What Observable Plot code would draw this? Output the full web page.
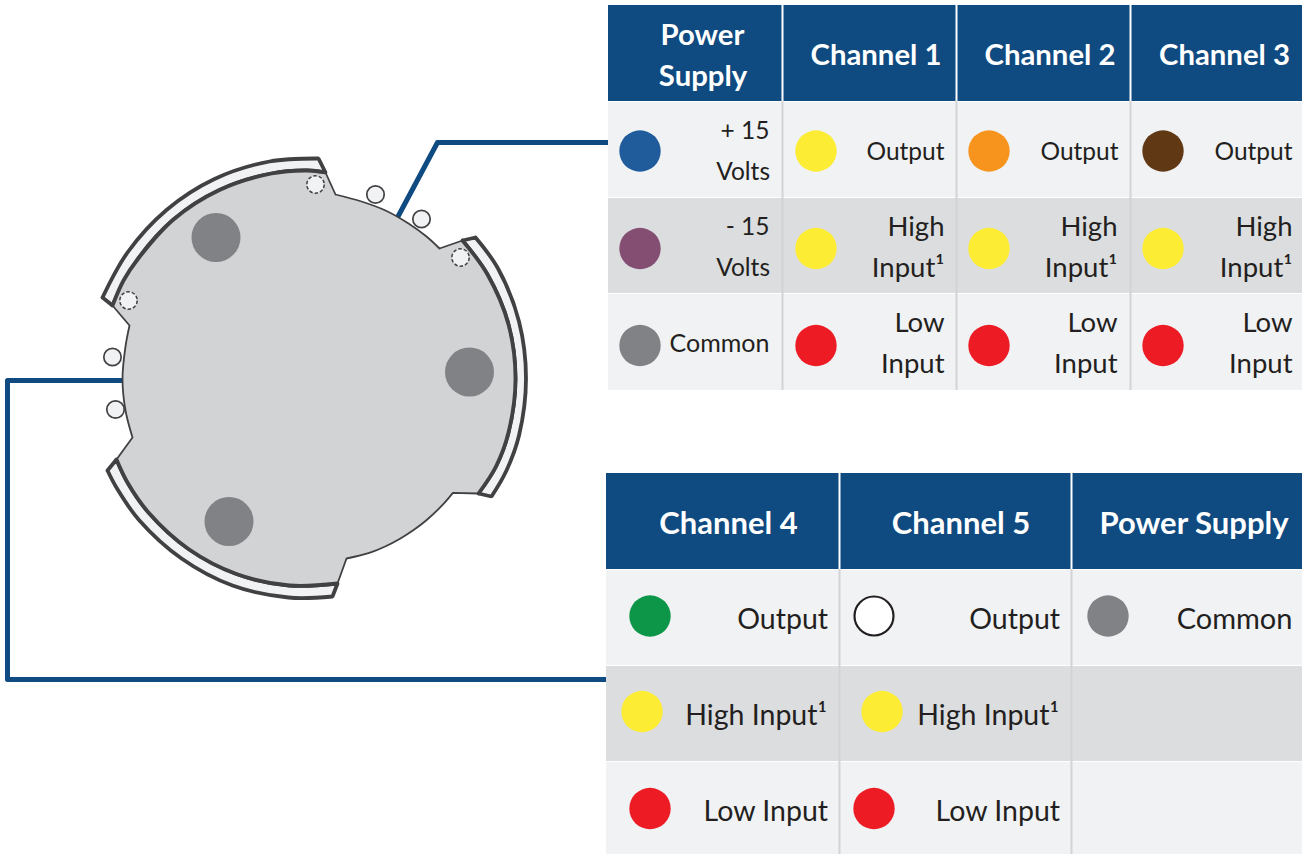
<!DOCTYPE html>
<html><head><meta charset="utf-8">
<script src="https://cdn.jsdelivr.net/npm/d3@7"></script>
<script src="https://cdn.jsdelivr.net/npm/@observablehq/plot@0.6"></script>
<style>html,body{margin:0;padding:0;background:#fff}svg{display:block}</style>
</head><body><div id="c"></div>
<script>
// Table panels
const headerBands = [
  {x1:608,x2:1302,y1:5,y2:101},{x1:606,x2:1302,y1:473,y2:569}];
const lightBands = [
  {x1:608,x2:1302,y1:102,y2:197},{x1:608,x2:1302,y1:294,y2:390},
  {x1:606,x2:1302,y1:570,y2:665},{x1:606,x2:1302,y1:762,y2:854}];
const darkBands = [
  {x1:608,x2:1302,y1:198,y2:293},{x1:606,x2:1302,y1:666,y2:761}];
const headerDividers = [
  {x:782,y1:5,y2:101},{x:956,y1:5,y2:101},{x:1130,y1:5,y2:101},
  {x:839,y1:473,y2:569},{x:1071,y1:473,y2:569}];
const rowDividers = [
  {x:782,y1:101,y2:390},{x:956,y1:101,y2:390},{x:1130,y1:101,y2:390},
  {x:839,y1:569,y2:854},{x:1071,y1:569,y2:854}];
const headersTop = [
  {t:"Power",x:702,y:35},{t:"Supply",x:702.5,y:76},
  {t:"Channel 1",x:875.5,y:55.5},{t:"Channel 2",x:1049.5,y:55.5},{t:"Channel 3",x:1224,y:55.5}];
const headersBottom = [
  {t:"Channel 4",x:728,y:523.5},{t:"Channel 5",x:960.5,y:523.5},{t:"Power Supply",x:1193.5,y:523.5}];
const labels = [
  {t:"+ 15",x:769,y:130.7},{t:"Volts",x:769.5,y:171.7},{t:"- 15",x:769,y:226.7},{t:"Volts",x:769.5,y:267.7},
  {t:"Output",x:944,y:151.7},{t:"Output",x:1118,y:151.7},{t:"Output",x:1292,y:151.7}];
const labelCommon = [{t:"Common",x:769,y:343.5}];
const labelsMid = [
  {t:"High",x:944,y:227},{t:"Input¹",x:944,y:268},{t:"Low",x:944,y:323},{t:"Input",x:944,y:364},
  {t:"High",x:1117,y:227},{t:"Input¹",x:1117,y:268},{t:"Low",x:1117,y:323},{t:"Input",x:1117,y:364},
  {t:"High",x:1292,y:227},{t:"Input¹",x:1292,y:268},{t:"Low",x:1292,y:323},{t:"Input",x:1292,y:364}];
const labelsLarge = [
  {t:"Output",x:827.5,y:619},{t:"High Input¹",x:826.5,y:715},{t:"Low Input",x:827.5,y:811},
  {t:"Output",x:1059.5,y:619},{t:"High Input¹",x:1058.5,y:715},{t:"Low Input",x:1059.5,y:811}];
const labelCommonLarge = [{t:"Common",x:1292,y:619}];
const wireDots = [
  {x:639.5,y:150.5,c:"#205c9c"},{x:639.5,y:248,c:"#834e72"},{x:639.5,y:345,c:"#808285"},
  {x:815.5,y:150.5,c:"#fcec33"},{x:815.5,y:248,c:"#fcec33"},{x:815.5,y:345,c:"#ed1c24"},
  {x:988.5,y:150.5,c:"#f7941d"},{x:988.5,y:248,c:"#fcec33"},{x:988.5,y:345,c:"#ed1c24"},
  {x:1162.5,y:150.5,c:"#603813"},{x:1162.5,y:248,c:"#fcec33"},{x:1162.5,y:345,c:"#ed1c24"},
  {x:649.5,y:615.5,c:"#0d9648"},{x:641.5,y:711,c:"#fcec33"},{x:649.5,y:808,c:"#ed1c24"},
  {x:881.5,y:711,c:"#fcec33"},{x:873.5,y:808,c:"#ed1c24"},{x:1107.5,y:615.5,c:"#808285"}];
const whiteWireDots = [{x:873.5,y:615.5}];

// Connector outline (doubled vertices are sharp corners)
const body = [[335,194],[335,194],[361,201],[385,210],[408,223],[426,236],[439,248],[439,248],
  [462,240],[462,240],[487,274],[508,324],[515,378],[508,432],[495.5,466],[478,493],[478,493],
  [452.4,492.4],[452.4,492.4],[442.3,504.2],[425.9,519.7],[413.1,529.5],[399.5,538.2],[385.2,545.7],[370.3,551.8],[346,558],[346,558],
  [337,583],[337,583],[289,585],[236,573.5],[188,548.5],[148,512],[127,482],[116,459],[116,459],
  [132,437],[132,437],[125,410],[122,378],[125,346],[129,325],[129,325],
  [112,305],[112,305],[123,280],[137,259],[173,219],[219,189.5],[271,173],[307,170],[325,172],[325,172],
  [335,194],[335,194]];
const innerArcs = [
  [[325,172],[325,172],[307,170],[271,173],[219,189.5],[173,219],[137,259],[123,280],[112,305],[112,305]],
  [[462,240],[462,240],[487,274],[508,324],[515,378],[508,432],[495.5,466],[478,493],[478,493]],
  [[337,583],[337,583],[289,585],[236,573.5],[188,548.5],[148,512],[127,482],[116,459],[116,459]]];
const tabs = [
  [[102,297],[102,297],[127,252],[166,209.5],[214,178.5],[269,161],[318,158],[318,158],[325,172],[325,172],
   [307,170],[271,173],[219,189.5],[173,219],[137,259],[112,305],[112,305],[102,297],[102,297]],
  [[475,237],[475,237],[497.5,268],[518.5,321],[525.5,378],[518.5,435],[505.5,471],[491,496],[491,496],[478,493],[478,493],
   [495.5,466],[508,432],[515,378],[508,324],[487,274],[462,240],[462,240],[475,237],[475,237]],
  [[107,470],[107,470],[116.5,488],[138.5,519.5],[181,558],[232,585],[288,597],[332,596],[332,596],[337,583],[337,583],
   [289,585],[236,573.5],[188,548.5],[148,512],[127,482],[116,459],[116,459],[107,470],[107,470]]];
const posts = [{x:215.5,y:237},{x:469,y:371.5},{x:228.5,y:521}];
const pinsSolid = [{x:375,y:194},{x:421,y:218.5},{x:112,y:356.5},{x:115,y:409}];
const pinsDashed = [{x:315,y:184},{x:128,y:300},{x:460,y:257}];
const wireTop = [[397,217],[437,142],[608,142]];
const wireBottom = [[122,380],[7,380],[7,679],[606,679]];

const navy="#0f4a80", ink="#414042", pale="#f1f2f4", font="Lato, sans-serif";
const band=(d,fill)=>Plot.rect(d,{x1:"x1",x2:"x2",y1:"y1",y2:"y2",fill});
const txt=(d,o)=>Plot.text(d,{x:"x",y:"y",text:"t",fontFamily:font,lineAnchor:"middle",...o});

document.getElementById("c").append(Plot.plot({
  width:1302,height:854,margin:0,style:{background:"#fff"},
  x:{domain:[0,1302],range:[0,1302],axis:null},
  y:{domain:[0,854],range:[0,854],axis:null},
  marks:[
    Plot.line(wireTop,{stroke:navy,strokeWidth:5}),
    Plot.line(wireBottom,{stroke:navy,strokeWidth:5}),
    Plot.dot(pinsSolid,{x:"x",y:"y",r:8.7,fill:pale,stroke:ink,strokeWidth:1.7}),
    ...tabs.map(t=>Plot.line(t,{curve:"catmull-rom",fill:pale,stroke:ink,strokeWidth:3.8,strokeLinejoin:"miter"})),
    Plot.line(body,{curve:"catmull-rom",fill:"#d1d3d4",stroke:ink,strokeWidth:1.8}),
    ...innerArcs.map(t=>Plot.line(t,{curve:"catmull-rom",stroke:ink,strokeWidth:3.8})),
    Plot.dot(posts,{x:"x",y:"y",r:24.5,fill:"#808285"}),
    Plot.dot(pinsDashed,{x:"x",y:"y",r:8.7,fill:pale,stroke:ink,strokeWidth:1.5,strokeDasharray:"3.5,2"}),
    band(headerBands,navy),band(lightBands,pale),band(darkBands,"#dcddde"),
    Plot.ruleX(headerDividers,{x:"x",y1:"y1",y2:"y2",stroke:"#fff",strokeWidth:2}),
    Plot.ruleX(rowDividers,{x:"x",y1:"y1",y2:"y2",stroke:"#d1d3d4",strokeWidth:2}),
    Plot.dot(wireDots,{x:"x",y:"y",r:20.7,fill:"c"}),
    Plot.dot(whiteWireDots,{x:"x",y:"y",r:19.5,fill:"#fff",stroke:"#231f20",strokeWidth:2.2}),
    txt(headersTop,{fill:"#fff",fontSize:29.3,fontWeight:700,textAnchor:"middle"}),
    txt(headersBottom,{fill:"#fff",fontSize:31,fontWeight:700,textAnchor:"middle"}),
    txt(labels,{fill:"#231f20",fontSize:24.5,textAnchor:"end"}),
    txt(labelCommon,{fill:"#231f20",fontSize:25,textAnchor:"end"}),
    txt(labelsMid,{fill:"#231f20",fontSize:27.5,textAnchor:"end"}),
    txt(labelsLarge,{fill:"#231f20",fontSize:28.5,textAnchor:"end"}),
    txt(labelCommonLarge,{fill:"#231f20",fontSize:29,textAnchor:"end"})
  ]
}));
</script></body></html>
